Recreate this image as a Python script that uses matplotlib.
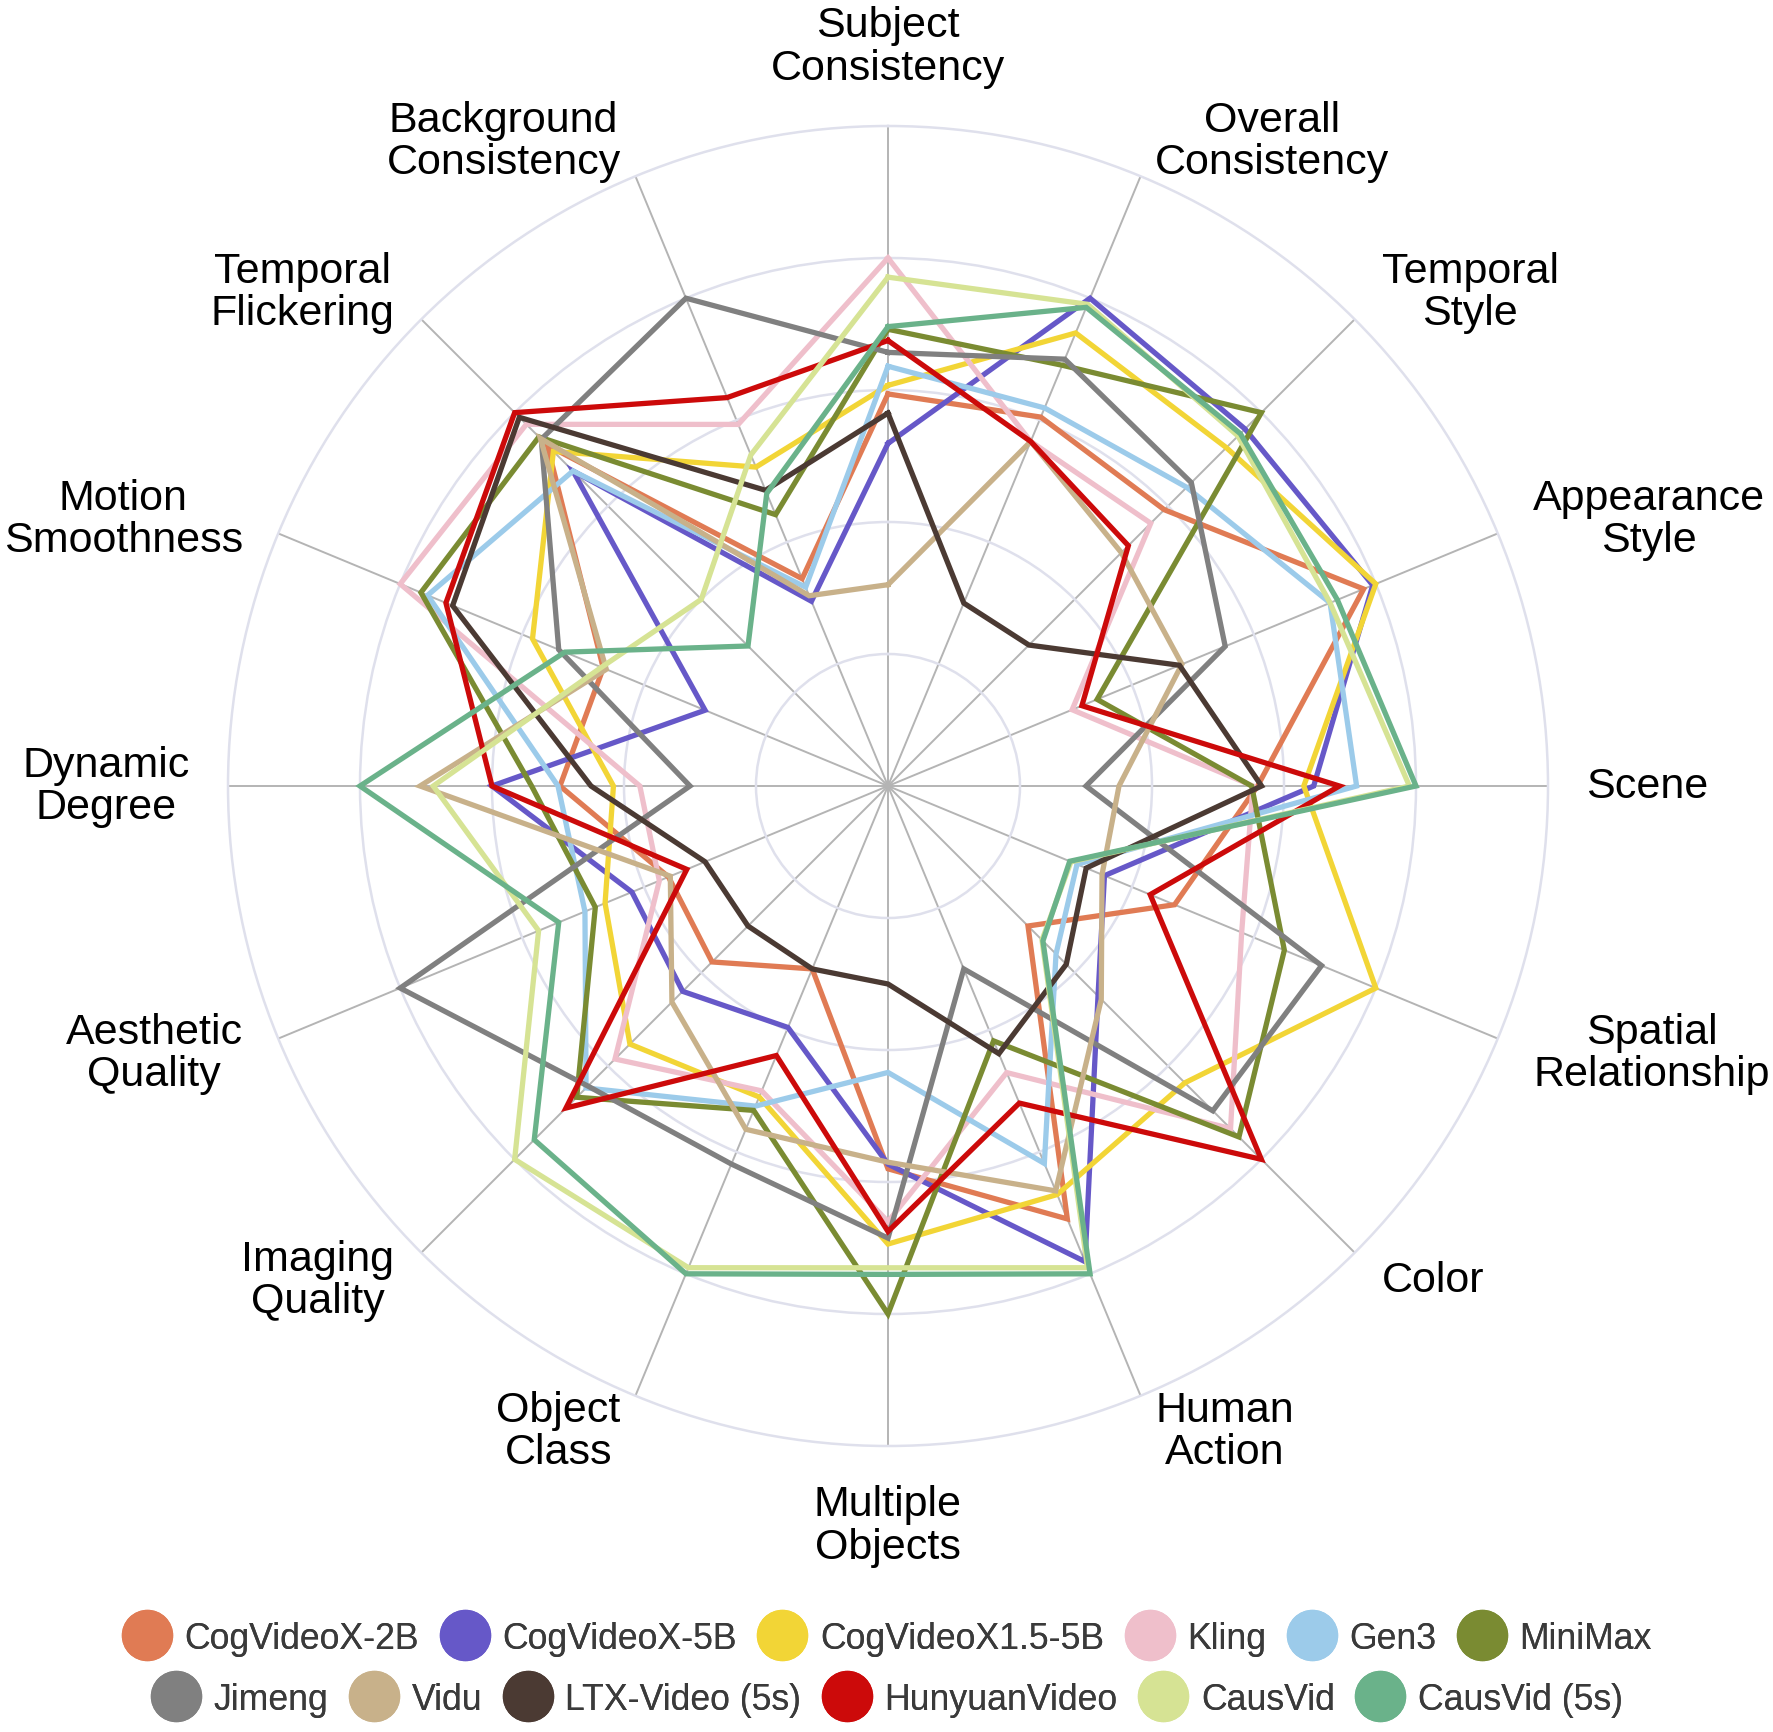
import numpy as np
import matplotlib.pyplot as plt
from matplotlib.lines import Line2D

plt.rcParams['font.family'] = ['Liberation Sans', 'DejaVu Sans']

# dimension labels, clockwise from the top
dimensions = ['Subject\nConsistency', 'Overall\nConsistency', 'Temporal\nStyle',
              'Appearance\nStyle', 'Scene', 'Spatial\nRelationship', 'Color',
              'Human\nAction', 'Multiple\nObjects', 'Object\nClass',
              'Imaging\nQuality', 'Aesthetic\nQuality', 'Dynamic\nDegree',
              'Motion\nSmoothness', 'Temporal\nFlickering',
              'Background\nConsistency']

models = ['CogVideoX-2B', 'CogVideoX-5B', 'CogVideoX1.5-5B', 'Kling', 'Gen3',
          'MiniMax', 'Jimeng', 'Vidu', 'LTX-Video (5s)', 'HunyuanVideo',
          'CausVid', 'CausVid (5s)']

colors = ['#e07b54', '#6658c8', '#f2d536', '#efbfcb', '#9ccbea', '#7a8b32',
          '#808080', '#c8b18a', '#4b3a33', '#cc0a0a', '#d6e394', '#6ab28a']

# normalised scores (0.3 - 0.8 per dimension), same order as dimensions
cogvideox_2b = [0.594, 0.605, 0.592, 0.78, 0.56, 0.47, 0.30, 0.71,
                0.58, 0.30, 0.377, 0.36, 0.497, 0.467, 0.73, 0.34]
cogvideox_5b = [0.519, 0.80, 0.765, 0.795, 0.645, 0.355, 0.45, 0.78,
                0.573, 0.396, 0.44, 0.42, 0.60, 0.30, 0.675, 0.303]
cogvideox15_5b = [0.607, 0.743, 0.725, 0.80, 0.63, 0.80, 0.636, 0.67,
                  0.694, 0.51, 0.553, 0.464, 0.416, 0.583, 0.717, 0.523]
kling = [0.80, 0.565, 0.563, 0.302, 0.553, 0.58, 0.734, 0.47,
         0.66, 0.50, 0.585, 0.375, 0.376, 0.80, 0.775, 0.593]
gen3 = [0.636, 0.62, 0.64, 0.725, 0.71, 0.31, 0.36, 0.619,
        0.434, 0.525, 0.647, 0.497, 0.50, 0.755, 0.675, 0.326]
minimax = [0.692, 0.69, 0.80, 0.343, 0.551, 0.65, 0.752, 0.418,
           0.80, 0.532, 0.667, 0.48, 0.54, 0.766, 0.748, 0.445]
jimeng = [0.657, 0.70, 0.65, 0.553, 0.30, 0.711, 0.696, 0.30,
          0.685, 0.62, 0.643, 0.80, 0.30, 0.54, 0.743, 0.80]
vidu = [0.305, 0.565, 0.50, 0.482, 0.35, 0.351, 0.457, 0.664,
        0.57, 0.563, 0.463, 0.357, 0.709, 0.462, 0.745, 0.312]
ltx_video = [0.565, 0.30, 0.302, 0.478, 0.566, 0.325, 0.382, 0.439,
             0.30, 0.30, 0.30, 0.30, 0.45, 0.714, 0.79, 0.485]
hunyuan = [0.675, 0.565, 0.515, 0.318, 0.684, 0.43, 0.80, 0.52,
           0.675, 0.442, 0.69, 0.33, 0.60, 0.725, 0.80, 0.637]
causvid = [0.771, 0.79, 0.75, 0.725, 0.79, 0.30, 0.33, 0.79,
           0.73, 0.79, 0.80, 0.573, 0.689, 0.47, 0.40, 0.543]
causvid_5s = [0.696, 0.785, 0.755, 0.737, 0.80, 0.298, 0.332, 0.80,
              0.74, 0.80, 0.758, 0.54, 0.80, 0.53, 0.30, 0.48]

scores = [cogvideox_2b, cogvideox_5b, cogvideox15_5b, kling, gen3, minimax,
          jimeng, vidu, ltx_video, hunyuan, causvid, causvid_5s]

W, H = 1774, 1733
fig = plt.figure(figsize=(W / 100, H / 100), dpi=100)
cx, cy, R = 888, 787, 660
ax = fig.add_axes([(cx - R) / W, (H - cy - R) / H, 2 * R / W, 2 * R / H],
                  projection='polar')
ax.set_theta_offset(np.pi / 2)
ax.set_theta_direction(-1)

n = len(dimensions)
angles = np.arange(n) * 2 * np.pi / n

for vals, name, c in zip(scores, models, colors):
    a = np.append(angles, angles[0])
    v = np.append(vals, vals[0])
    ax.plot(a, v, color=c, lw=3.8, label=name, solid_joinstyle='miter',
            zorder=3)

ax.set_ylim(0, 1.0)
ax.set_yticks([0.2, 0.4, 0.6, 0.8])
ax.set_yticklabels([])
ax.set_xticks(angles)
ax.set_xticklabels([])
ax.yaxis.grid(True, color='#dfe0ec', lw=1.8)
ax.xaxis.grid(True, color='#b4b4b4', lw=1.4)
ax.spines['polar'].set_color('#dfe0ec')
ax.spines['polar'].set_linewidth(1.8)
ax.set_axisbelow(True)

# dimension labels outside the circle
for ang, lab in zip(angles, dimensions):
    deg = 90 - np.degrees(ang)
    cs, sn = np.cos(np.radians(deg)), np.sin(np.radians(deg))
    ha = 'left' if cs > 0.01 else ('right' if cs < -0.01 else 'center')
    va = 'bottom' if sn > 0.99 else ('top' if sn < -0.99 else 'center')
    ax.text(ang, 1.058, lab, ha=ha, va=va, multialignment='center',
            fontsize=31, color='black', linespacing=1.08)

handles = [Line2D([], [], marker='o', linestyle='', markersize=36,
                  markerfacecolor=c, markeredgecolor=c) for c in colors]
for row, ypos in [(0, 0.054), (1, 0.019)]:
    sl = slice(row * 6, row * 6 + 6)
    leg = fig.legend(handles[sl], models[sl], loc='center',
                     bbox_to_anchor=(0.5, ypos), ncol=6, frameon=False,
                     fontsize=25.7, handlelength=1.4, handletextpad=0.35,
                     columnspacing=0.58, borderpad=0, labelcolor='#3a3a3a')
    fig.add_artist(leg)

fig.savefig('out.png', dpi=100)
